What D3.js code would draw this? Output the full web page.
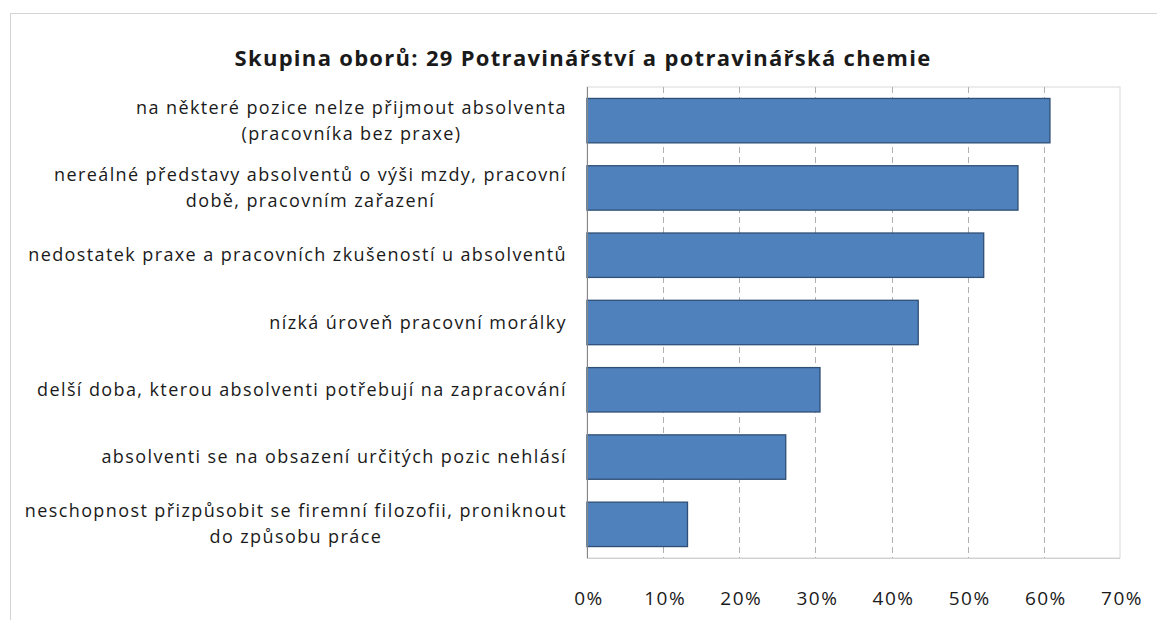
<!DOCTYPE html>
<html>
<head>
<meta charset="utf-8">
<script src="https://cdn.jsdelivr.net/npm/d3@7"></script>
<style>
  body { margin: 0; background: #fff; }
  text { font-family: "Open Sans", sans-serif; fill: #1a1a1a; }
</style>
</head>
<body>
<div id="chart"></div>
<script>
const title = 'Skupina oborů: 29 Potravinářství a potravinářská chemie';

const categories = [
  'na některé pozice nelze přijmout absolventa\n(pracovníka bez praxe)',
  'nereálné představy absolventů o výši mzdy, pracovní\ndobě, pracovním zařazení',
  'nedostatek praxe a pracovních zkušeností u absolventů',
  'nízká úroveň pracovní morálky',
  'delší doba, kterou absolventi potřebují na zapracování',
  'absolventi se na obsazení určitých pozic nehlásí',
  'neschopnost přizpůsobit se firemní filozofii, proniknout\ndo způsobu práce'
];

const values = [0.608, 0.566, 0.521, 0.435, 0.306, 0.261, 0.132];

const ticks = [0, 0.1, 0.2, 0.3, 0.4, 0.5, 0.6, 0.7];

const width = 1157, height = 620;
const plot = { left: 587, right: 1120, top: 87, bottom: 558 };

const svg = d3.select('#chart')
  .append('svg')
  .attr('width', width)
  .attr('height', height);

// chart area frame
svg.append('rect')
  .attr('x', 10.5).attr('y', 13.5)
  .attr('width', width).attr('height', height)
  .attr('fill', 'none')
  .attr('stroke', '#d4d4d4');

const x = d3.scaleLinear().domain([0, 0.7]).range([plot.left, plot.right]);
const y = d3.scaleBand().domain(categories)
  .range([plot.top, plot.bottom])
  .paddingInner(0.34).paddingOuter(0.17);

// plot area frame
svg.append('rect')
  .attr('x', plot.left).attr('y', plot.top)
  .attr('width', plot.right - plot.left).attr('height', plot.bottom - plot.top)
  .attr('fill', 'none')
  .attr('stroke', '#d9d9d9');

// gridlines
svg.append('g')
  .selectAll('line')
  .data(ticks.slice(1, -1))
  .enter()
  .append('line')
  .attr('x1', d => Math.round(x(d)) + 0.5).attr('x2', d => Math.round(x(d)) + 0.5)
  .attr('y1', plot.top).attr('y2', plot.bottom)
  .attr('stroke', '#b0b0b0')
  .attr('stroke-dasharray', '6,4');

// bars
svg.append('g')
  .selectAll('rect')
  .data(values)
  .enter()
  .append('rect')
  .attr('x', x(0))
  .attr('y', (d, i) => y(categories[i]))
  .attr('width', d => x(d) - x(0))
  .attr('height', y.bandwidth())
  .attr('fill', '#4f81bd')
  .attr('stroke', '#2f4f75')
  .attr('stroke-width', 1.3);

// axes lines
svg.append('line')
  .attr('x1', plot.left + 0.5).attr('x2', plot.left + 0.5)
  .attr('y1', plot.top).attr('y2', plot.bottom)
  .attr('stroke', '#868686');
svg.append('line')
  .attr('x1', plot.left).attr('x2', plot.right)
  .attr('y1', plot.bottom + 0.5).attr('y2', plot.bottom + 0.5)
  .attr('stroke', '#d0d0d0');

// x tick labels
svg.append('g')
  .selectAll('text')
  .data(ticks)
  .enter()
  .append('text')
  .attr('x', d => x(d) + 2)
  .attr('y', 605)
  .attr('text-anchor', 'middle')
  .attr('font-size', 19)
  .attr('letter-spacing', 1.5)
  .text(d => d3.format('.0%')(d));

// category labels
const labelRight = 567;
const lineH = 26;
const labels = svg.append('g')
  .selectAll('g')
  .data(categories)
  .enter()
  .append('g');

labels.each(function(c) {
  const g = d3.select(this);
  const lines = c.split('\n');
  const cy = y(c) + y.bandwidth() / 2;
  const texts = lines.map((l, i) => g.append('text')
    .attr('font-size', 18)
    .attr('letter-spacing', 1.4)
    .attr('y', cy + (i - (lines.length - 1) / 2) * lineH + 6)
    .text(l));
  const w = d3.max(texts, t => t.node().getComputedTextLength());
  texts.forEach(t => t.attr('text-anchor', 'middle').attr('x', labelRight - w / 2));
});

// title
svg.append('text')
  .attr('x', 583)
  .attr('y', 66)
  .attr('text-anchor', 'middle')
  .attr('font-size', 22)
  .attr('font-weight', 'bold')
  .attr('letter-spacing', 1.3)
  .text(title);
</script>
</body>
</html>
